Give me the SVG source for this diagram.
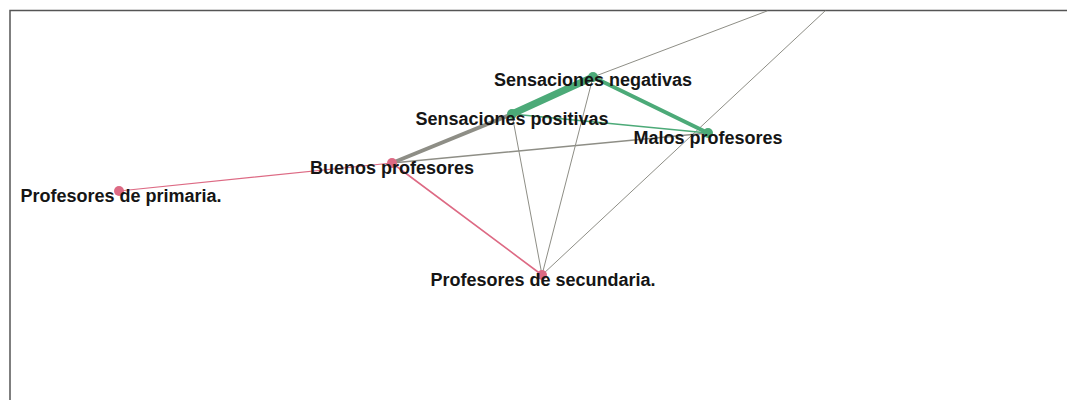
<svg xmlns="http://www.w3.org/2000/svg" width="1067" height="400" viewBox="0 0 1067 400">
<style>
.lbl{font-family:"Liberation Sans",Arial,sans-serif;font-weight:bold;font-size:18px;fill:#151515;text-anchor:middle}
.g{stroke:#8e8e86;fill:none;stroke-linecap:round}
.gr{stroke:#4caa78;fill:none;stroke-linecap:round}
.pk{stroke:#dd6a84;fill:none;stroke-linecap:round}
.ng{fill:#4caa78}
.np{fill:#dd6a84}
</style>
<rect x="0" y="0" width="1067" height="400" fill="#fff"/>
<path d="M10 400V10.5H1067" fill="none" stroke="#555" stroke-width="1.5"/>
<g id="connectors">
<line class="g" x1="593" y1="77" x2="767" y2="11" stroke-width="1"/>
<line class="g" x1="542" y1="275" x2="825" y2="11" stroke-width="1"/>
<line class="g" x1="512" y1="114" x2="542" y2="275" stroke-width="1"/>
<line class="g" x1="593" y1="77" x2="542" y2="275" stroke-width="1"/>
<line class="g" x1="392" y1="163" x2="708" y2="133" stroke-width="1.5"/>
<line class="g" x1="392" y1="163" x2="512" y2="114" stroke-width="4"/>
<line class="pk" x1="119" y1="191" x2="392" y2="163" stroke-width="1.2"/>
<line class="pk" x1="392" y1="163" x2="542" y2="275" stroke-width="1.6"/>
<line class="gr" x1="512" y1="114" x2="708" y2="133" stroke-width="1.5"/>
<line class="gr" x1="593" y1="77" x2="708" y2="133" stroke-width="4"/>
<line class="gr" x1="512" y1="114" x2="593" y2="77" stroke-width="7"/>
</g>
<g id="sensaciones-negativas"><circle class="ng" cx="593" cy="77" r="5"/><text class="lbl" x="593" y="86">Sensaciones negativas</text></g>
<g id="sensaciones-positivas"><circle class="ng" cx="512" cy="114" r="5"/><text class="lbl" x="512" y="125">Sensaciones positivas</text></g>
<g id="malos-profesores"><circle class="ng" cx="708" cy="133" r="5"/><text class="lbl" x="708" y="144">Malos profesores</text></g>
<g id="buenos-profesores"><circle class="np" cx="392" cy="163" r="5"/><text class="lbl" x="392" y="174">Buenos profesores</text></g>
<g id="profesores-primaria"><circle class="np" cx="119" cy="191" r="5"/><text class="lbl" x="121" y="202">Profesores de primaria.</text></g>
<g id="profesores-secundaria"><circle class="np" cx="542" cy="275" r="5"/><text class="lbl" x="543" y="286">Profesores de secundaria.</text></g>
</svg>
